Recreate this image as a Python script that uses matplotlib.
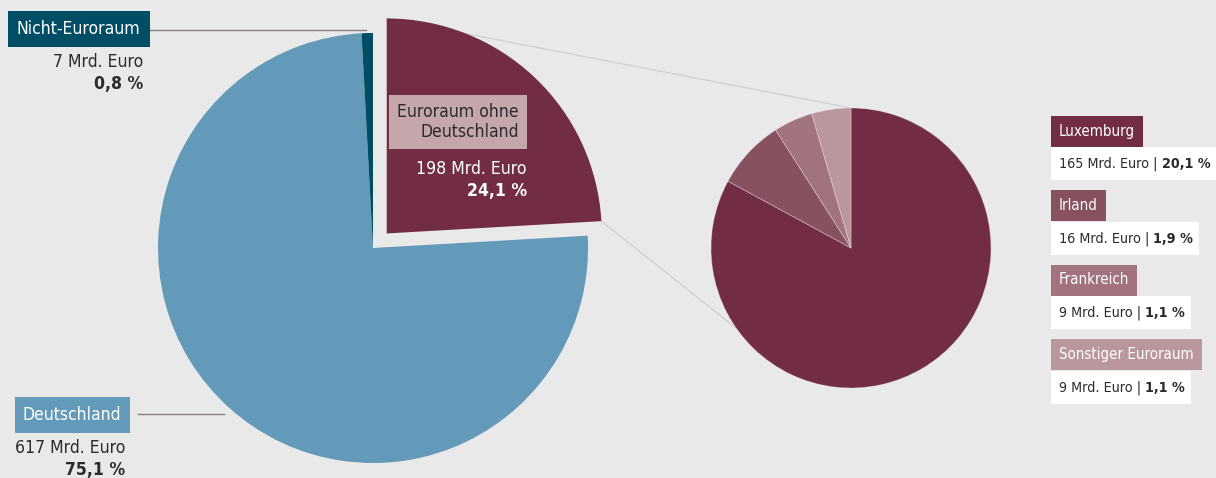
import numpy as np
import matplotlib.pyplot as plt
from matplotlib.patches import Rectangle

plt.rcParams['font.family'] = ['DejaVu Sans']
plt.rcParams['font.stretch'] = 'condensed'

# Anlagen nach Region (Mrd. Euro)
regionen = ['Euroraum ohne\nDeutschland', 'Deutschland', 'Nicht-Euroraum']
betraege = [198, 617, 7]
anteile = ['24,1 %', '75,1 %', '0,8 %']
farben = ['#722d45', '#6399b9', '#004e65']

# Aufteilung Euroraum ohne Deutschland
laender = ['Luxemburg', 'Irland', 'Frankreich', 'Sonstiger Euroraum']
laender_betraege = [165, 16, 9, 9]
laender_anteile = ['20,1 %', '1,9 %', '1,1 %', '1,1 %']
laender_farben = ['#722d45', '#875160', '#a2737f', '#b9979d']

W, H = 1216, 478
bg = '#e9e9e9'
txt = '#2b2b2b'

fig = plt.figure(figsize=(W / 100, H / 100), dpi=100, facecolor=bg)
ax = fig.add_axes([0, 0, 1, 1])
ax.set_facecolor(bg)
renderer = fig.canvas.get_renderer()

def Y(y):
    # Pixel von oben -> Datenkoordinate von unten
    return H - y

# großer Kreis
c1 = (373, Y(248))
r1 = 215
explode = [20, 0, 0]  # pie verschiebt absolut, nicht relativ zum Radius
w1, _ = ax.pie(betraege, colors=farben, startangle=90, counterclock=False,
               center=c1, radius=r1, explode=explode,
               wedgeprops=dict(linewidth=0))

# kleiner Kreis
c2 = (851, Y(248))
r2 = 140
w2, _ = ax.pie(laender_betraege, colors=laender_farben, startangle=90,
               counterclock=False, center=c2, radius=r2,
               wedgeprops=dict(linewidth=0.6, edgecolor=(1, 1, 1, 0.35)))

ax.set_xlim(0, W)
ax.set_ylim(0, H)
ax.set_aspect('equal')
ax.axis('off')

# Verbindungslinien vom herausgezogenen Segment zum kleinen Kreis
eu = w1[0]
cx, cy = eu.center
a_top = np.deg2rad(eu.theta2)
a_bot = np.deg2rad(eu.theta1)
p_top = (cx + r1 * np.cos(a_top), cy + r1 * np.sin(a_top))
p_bot = (cx + r1 * np.cos(a_bot), cy + r1 * np.sin(a_bot))
q_top = (c2[0], c2[1] + r2)
q_bot = (c2[0] + r2 * np.cos(np.deg2rad(215)), c2[1] + r2 * np.sin(np.deg2rad(215)))
for p, q in [(p_top, q_top), (p_bot, q_bot)]:
    ax.plot([p[0], q[0]], [p[1], q[1]], color='#cfcfcf', lw=0.9, zorder=0.5)

def kasten(x, y, s, fc, color='white', ha='left', size=12.6, padx=8, pady=9):
    # Text mit farbigem Rechteck dahinter (Innenabstand in Pixeln)
    t = ax.text(x, Y(y), s, ha=ha, va='center', color=color, fontsize=size,
                zorder=6, linespacing=1.15)
    bb = t.get_window_extent(renderer)
    ax.add_patch(Rectangle((bb.x0 - padx, bb.y0 - pady), bb.width + 2 * padx,
                           bb.height + 2 * pady, fc=fc, ec='none', zorder=5))
    return t

def wert_text(x, y, betrag, anteil, color, size=12.6):
    ax.text(x, Y(y), f'{betrag} Mrd. Euro', ha='right', va='center', color=color, fontsize=size)
    ax.text(x, Y(y + 22), anteil, ha='right', va='center', color=color, fontsize=size, weight='bold')

# Nicht-Euroraum
kasten(17, 29, regionen[2], farben[2], padx=9)
ax.plot([150, 366], [Y(30), Y(30)], color='#8a7c80', lw=1)
wert_text(143, 62, betraege[2], anteile[2], txt)

# Deutschland
kasten(23, 415, regionen[1], farben[1])
ax.plot([138, 224], [Y(414), Y(414)], color='#8a7c80', lw=1)
wert_text(125, 448, betraege[1], anteile[1], txt)

# Euroraum ohne Deutschland
kasten(519, 122, regionen[0], '#c4a6ab', color=txt, ha='right', padx=8, pady=8)
wert_text(527, 169, betraege[0], anteile[0], 'white')

# Legende rechts: farbiger Kopf, darunter weißes Feld mit Betrag | Anteil
y0 = 131
for i, (name, wert, ant, fc) in enumerate(zip(laender, laender_betraege, laender_anteile, laender_farben)):
    y = y0 + i * 74.5
    kasten(1059, y, name, fc, size=10.8, padx=8, pady=8)
    t1 = ax.text(1059, Y(y + 33), f'{wert} Mrd. Euro |', ha='left', va='center',
                 color=txt, fontsize=10.3, zorder=6)
    bb1 = t1.get_window_extent(renderer)
    t2 = ax.text(bb1.x1 + 4, Y(y + 33), ant, ha='left', va='center',
                 color=txt, fontsize=10.3, weight='bold', zorder=6)
    bb2 = t2.get_window_extent(renderer)
    ax.add_patch(Rectangle((1051, Y(y + 49)), bb2.x1 + 6 - 1051, 33,
                           fc='white', ec='none', zorder=4))

fig.savefig('out.png', dpi=100, facecolor=bg)
